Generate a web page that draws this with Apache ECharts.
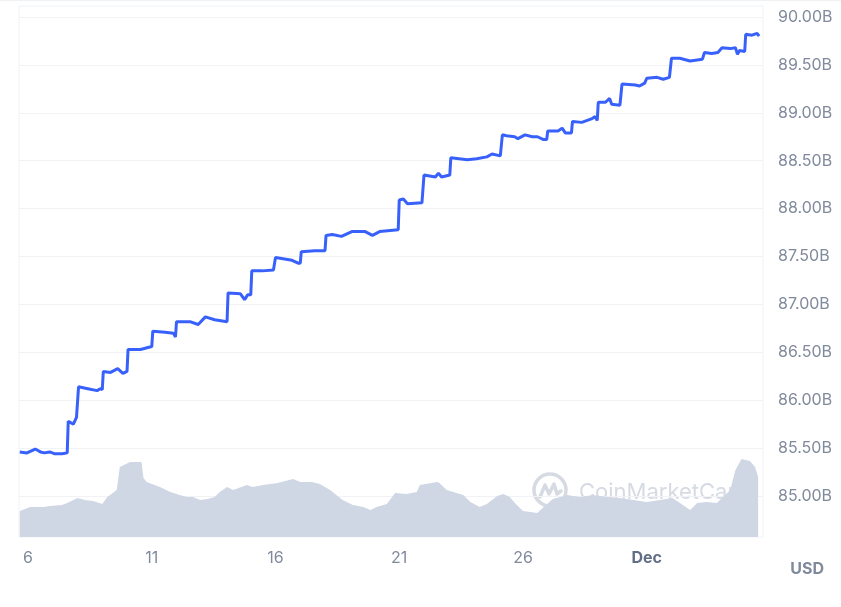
<!DOCTYPE html>
<html>
<head>
<meta charset="utf-8">
<script src="https://cdn.jsdelivr.net/npm/echarts@6/dist/echarts.min.js"></script>
<style>
html,body{margin:0;padding:0;background:#fff;}
#chart{width:841px;height:607px;}
</style>
</head>
<body>
<div id="chart"></div>
<script>
// ---- DATA ----
const lineTimes = [
'2023-11-05 16:00','2023-11-05 23:00','2023-11-06 07:00','2023-11-06 12:00','2023-11-06 16:00','2023-11-06 21:00',
'2023-11-07 02:00','2023-11-07 09:00','2023-11-07 14:00','2023-11-07 15:00','2023-11-07 20:00','2023-11-07 23:00',
'2023-11-08 00:00','2023-11-08 01:00','2023-11-08 10:00','2023-11-08 19:00','2023-11-08 22:00','2023-11-09 00:00',
'2023-11-09 01:00','2023-11-09 08:00','2023-11-09 15:00','2023-11-09 20:00','2023-11-10 00:00','2023-11-10 01:00',
'2023-11-10 13:00','2023-11-11 00:00','2023-11-11 01:00','2023-11-11 13:00','2023-11-11 21:00','2023-11-11 23:00',
'2023-11-12 00:00','2023-11-12 13:00','2023-11-12 21:00','2023-11-13 04:00','2023-11-13 13:00','2023-11-14 01:00',
'2023-11-14 02:00','2023-11-14 14:00','2023-11-14 18:00','2023-11-14 21:00','2023-11-15 00:00','2023-11-15 01:00',
'2023-11-15 11:00','2023-11-15 22:00','2023-11-15 23:00','2023-11-16 00:00','2023-11-16 16:00','2023-11-16 22:00',
'2023-11-17 00:00','2023-11-17 01:00','2023-11-17 14:00','2023-11-18 00:00','2023-11-18 01:00','2023-11-18 07:00',
'2023-11-18 16:00','2023-11-19 02:00','2023-11-19 15:00','2023-11-19 22:00','2023-11-20 05:00','2023-11-20 23:00',
'2023-11-21 00:00','2023-11-21 04:00','2023-11-21 08:00','2023-11-21 22:00','2023-11-21 23:00','2023-11-22 00:00',
'2023-11-22 11:00','2023-11-22 14:00','2023-11-22 17:00','2023-11-23 01:00','2023-11-23 02:00','2023-11-23 18:00',
'2023-11-24 03:00','2023-11-24 13:00','2023-11-24 18:00','2023-11-25 02:00','2023-11-25 03:00','2023-11-25 04:00',
'2023-11-25 08:00','2023-11-25 16:00','2023-11-25 19:00','2023-11-26 02:00','2023-11-26 09:00','2023-11-26 14:00',
'2023-11-26 20:00','2023-11-26 23:00','2023-11-27 00:00','2023-11-27 10:00','2023-11-27 14:00','2023-11-27 17:00',
'2023-11-27 23:00','2023-11-28 00:00','2023-11-28 09:00','2023-11-28 19:00','2023-11-28 22:00','2023-11-29 00:00',
'2023-11-29 01:00','2023-11-29 08:00','2023-11-29 12:00','2023-11-29 14:00','2023-11-29 22:00','2023-11-29 23:00',
'2023-11-30 00:00','2023-11-30 13:00','2023-11-30 17:00','2023-11-30 22:00','2023-11-30 23:00','2023-12-01 00:00',
'2023-12-01 10:00','2023-12-01 16:00','2023-12-01 22:00','2023-12-01 23:00','2023-12-02 00:00','2023-12-02 08:00',
'2023-12-02 18:00','2023-12-03 06:00','2023-12-03 07:00','2023-12-03 08:00','2023-12-03 15:00','2023-12-03 21:00',
'2023-12-04 01:00','2023-12-04 09:00','2023-12-04 14:00','2023-12-04 16:00','2023-12-04 18:00','2023-12-04 23:00',
'2023-12-05 00:00','2023-12-05 06:00','2023-12-05 11:00','2023-12-05 13:00'
];
const lineValues = [
85.46,85.45,85.49,85.46,85.45,85.46,
85.44,85.44,85.45,85.78,85.75,85.82,
85.81,86.14,86.12,86.10,86.12,86.11,
86.30,86.29,86.33,86.28,86.30,86.53,
86.53,86.56,86.72,86.71,86.70,86.66,
86.82,86.82,86.79,86.87,86.84,86.82,
87.12,87.11,87.05,87.10,87.10,87.35,
87.35,87.36,87.36,87.49,87.46,87.43,
87.43,87.55,87.56,87.56,87.72,87.73,
87.71,87.76,87.76,87.72,87.76,87.78,
88.09,88.10,88.05,88.06,88.06,88.35,
88.33,88.37,88.33,88.35,88.53,88.51,
88.52,88.54,88.57,88.55,88.55,88.77,
88.76,88.75,88.73,88.77,88.75,88.75,
88.72,88.72,88.81,88.81,88.84,88.79,
88.79,88.91,88.90,88.94,88.96,88.92,
89.11,89.11,89.15,89.09,89.08,89.08,
89.30,89.29,89.28,89.31,89.31,89.36,
89.37,89.35,89.37,89.37,89.57,89.57,
89.54,89.56,89.54,89.63,89.62,89.63,
89.68,89.67,89.68,89.61,89.65,89.64,
89.82,89.81,89.83,89.80
];
const volTimes = [
'2023-11-05 16:00','2023-11-06 02:00','2023-11-06 15:00','2023-11-06 21:00','2023-11-07 09:00','2023-11-07 14:00',
'2023-11-08 00:00','2023-11-08 07:00','2023-11-08 15:00','2023-11-09 00:00','2023-11-09 05:00','2023-11-09 14:00',
'2023-11-09 17:00','2023-11-10 03:00','2023-11-10 14:00','2023-11-10 16:00','2023-11-10 19:00','2023-11-11 08:00',
'2023-11-11 18:00','2023-11-12 03:00','2023-11-12 10:00','2023-11-12 16:00','2023-11-12 23:00','2023-11-13 06:00',
'2023-11-13 13:00','2023-11-13 18:00','2023-11-14 01:00','2023-11-14 07:00','2023-11-14 20:00','2023-11-15 02:00',
'2023-11-15 12:00','2023-11-16 02:00','2023-11-16 17:00','2023-11-17 00:00','2023-11-17 11:00','2023-11-17 19:00',
'2023-11-18 05:00','2023-11-18 17:00','2023-11-19 03:00','2023-11-19 13:00','2023-11-19 20:00','2023-11-20 02:00',
'2023-11-20 12:00','2023-11-20 20:00','2023-11-21 07:00','2023-11-21 17:00','2023-11-21 20:00','2023-11-22 13:00',
'2023-11-22 15:00','2023-11-22 22:00','2023-11-23 14:00','2023-11-23 21:00','2023-11-24 06:00','2023-11-24 13:00',
'2023-11-24 23:00','2023-11-25 05:00','2023-11-25 11:00','2023-11-25 18:00','2023-11-26 00:00','2023-11-26 14:00',
'2023-11-26 19:00','2023-11-27 05:00','2023-11-27 19:00','2023-11-28 07:00','2023-11-28 20:00','2023-11-29 10:00',
'2023-11-29 22:00','2023-11-30 11:00','2023-12-01 00:00','2023-12-01 13:00','2023-12-02 01:00','2023-12-02 11:00',
'2023-12-02 18:00','2023-12-03 01:00','2023-12-03 10:00','2023-12-03 20:00','2023-12-04 02:00','2023-12-04 09:00',
'2023-12-04 14:00','2023-12-04 20:00','2023-12-05 04:00','2023-12-05 09:00','2023-12-05 12:00'
];
const volValues = [
13,15,15,15.5,16,17,
19.5,18.5,18,16.5,20,23.5,
35,37.5,37.5,29.5,27.5,25,
22.5,21,20,20,18.5,19,
20,22.5,25,23.5,26,25,
26,27,29,27.5,27.5,26.5,
23.5,18.5,16,15,13.5,15,
16.5,22,21.5,22.5,26,27.5,
27,23.5,21,17.5,15,16.5,
20.5,21.5,20,16,13,12,
14.5,19,21,20,21,20,
19.5,18.5,17.5,18.5,19.5,16,
13.5,17,17.5,17,20,23.5,
33.5,39,38,35,30
];
const xTickDates = ['2023-11-06','2023-11-11','2023-11-16','2023-11-21','2023-11-26','2023-12-01'];
const yTicks = [85, 85.5, 86, 86.5, 87, 87.5, 88, 88.5, 89, 89.5, 90];
const xRange = ['2023-11-05 15:15', '2023-12-05 16:45'];

// ---- CHART ----
function ts(s){ const p = s.split(/[- :]/).map(Number); return new Date(p[0], p[1]-1, p[2], p[3]||0, p[4]||0).getTime(); }
const lineData = lineTimes.map((t,i)=>[ts(t), lineValues[i]]);
const volData = volTimes.map((t,i)=>[ts(t), volValues[i]]);
const xMin = ts(xRange[0]), xMax = ts(xRange[1]);
const labelColor = '#808A9D';
const font = 'Inter, "Noto Sans", sans-serif';

const chart = echarts.init(document.getElementById('chart'), null, {renderer:'canvas'});
const cx = 550, cy = 490, r = 16;
chart.setOption({
  animation: false,
  backgroundColor: '#fff',
  grid: [
    {left: 19, right: 78, top: 17, height: 479},
    {left: 19, right: 78, top: 6, height: 531, show: true, borderColor: '#EFF2F5', borderWidth: 1, backgroundColor: 'transparent'}
  ],
  xAxis: [
    {type:'value', gridIndex:0, min:xMin, max:xMax, show:false, scale:true},
    {type:'value', gridIndex:1, min:xMin, max:xMax, scale:true,
     axisLine:{show:false}, axisTick:{show:false}, splitLine:{show:false},
     axisLabel:{
       customValues: xTickDates.map(ts),
       margin: 13, fontSize: 16, fontFamily: font, color: labelColor,
       formatter: function(v){ const d = new Date(v); return d.getDate()===1 ? '{b|Dec}' : String(d.getDate()); },
       rich: { b: {fontWeight: 'bold', color: '#616E85', fontSize: 16, fontFamily: font} }
     }}
  ],
  yAxis: [
    {type:'value', gridIndex:0, position:'right', min: yTicks[0], max: yTicks[yTicks.length-1], interval: 0.5,
     axisLine:{show:false}, axisTick:{show:false},
     splitLine:{lineStyle:{color:'#F0F2F5', width:1}},
     axisLabel:{margin: 15, fontSize: 16, fontFamily: font, color: labelColor,
       formatter: v => v.toFixed(2) + 'B'}},
    {type:'value', gridIndex:1, min:0, max:265.5, show:false}
  ],
  graphic: [
    {type:'rect', shape:{x:0, y:0, width:841, height:1}, style:{fill:'#EFF2F5'}, silent:true},
    {type:'circle', shape:{cx:cx, cy:cy, r:r}, style:{fill:'none', stroke:'#D6DAE2', lineWidth:3.5}, silent:true},
    {type:'polyline', shape:{points:[[cx-10,cy+7],[cx-5,cy-5],[cx-1,cy+4],[cx+4,cy-6],[cx+7,cy+4],[cx+11,cy+1]]}, style:{fill:'none', stroke:'#D6DAE2', lineWidth:3.5, lineJoin:'round', lineCap:'round'}, silent:true},
    {type:'text', x: cx + 29, y: cy + 2, style:{text:'CoinMarketCap', fill:'#D6DAE2', font:'400 22px ' + font, textVerticalAlign:'middle'}, silent:true},
    {type:'text', right: 17, top: 561, style:{text:'USD', fill:labelColor, font:'bold 16px ' + font}, silent:true}
  ],
  series: [
    {type:'line', xAxisIndex:1, yAxisIndex:1, data: volData, showSymbol:false, symbol:'none',
     lineStyle:{width:0}, areaStyle:{color:'#CFD6E4', opacity:1}, silent:true},
    {type:'line', xAxisIndex:0, yAxisIndex:0, data: lineData, showSymbol:false, symbol:'none',
     lineStyle:{color:'#3861FB', width:3}, silent:true}
  ]
});
</script>
</body>
</html>
